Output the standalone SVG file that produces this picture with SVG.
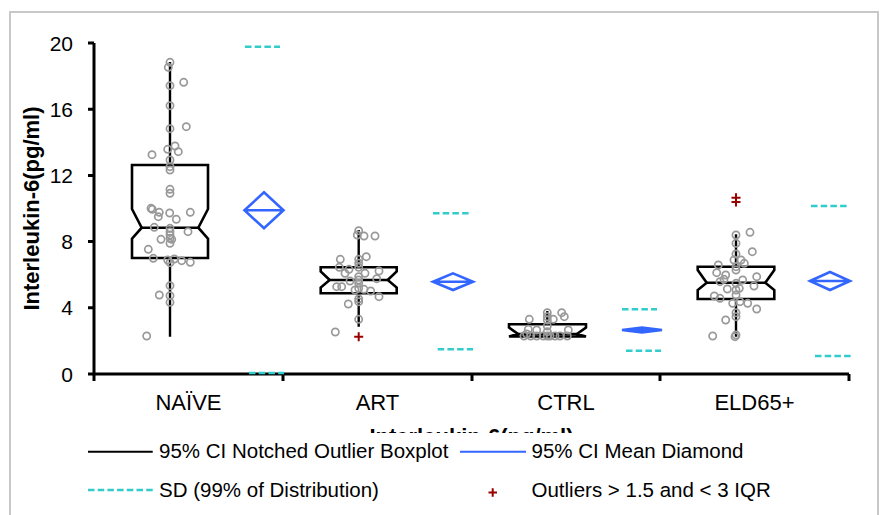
<svg xmlns="http://www.w3.org/2000/svg" width="881" height="515" viewBox="0 0 881 515">
<style>
text{font-family:"Liberation Sans",Arial,sans-serif;fill:#000}
.tk{font-size:21px;text-anchor:end}
.xl{font-size:22px;text-anchor:middle}
.ttl{font-size:22px;font-weight:bold;text-anchor:middle}
.lg{font-size:20.5px}
.ax{stroke:#000;stroke-width:3;fill:none}
.box{stroke:#000;stroke-width:2.6;fill:none;stroke-linejoin:miter}
.wh{stroke:#000;stroke-width:2.4}
.pt{fill:none;stroke:#999;stroke-width:1.7}
.dm{fill:none;stroke:#3366ff;stroke-width:2.6;stroke-linejoin:miter}
.sd{stroke:#33cccc;stroke-width:2.6;stroke-dasharray:6.5 3.2}
.out{stroke:#990000;stroke-width:2}
</style>
<defs>
<circle id="p" r="3.6" class="pt"/>
<path id="o" d="M-4.5,0H4.5M0,-4.5V4.5" class="out"/>
</defs>
<rect x="0" y="0" width="881" height="515" fill="#fff"/>
<rect x="10" y="12" width="868" height="520" fill="#fff" stroke="#c8c8c8" stroke-width="2"/>

<g id="axes">
<path class="ax" d="M94,43V374H849"/>
<path class="ax" d="M88,43H94M88,109.2H94M88,175.4H94M88,241.6H94M88,307.8H94M88,374H94"/>
<path class="ax" d="M94,374V381M283,374V381M472,374V381M660,374V381M849,374V381"/>
<text class="tk" x="73" y="51">20</text>
<text class="tk" x="73" y="117">16</text>
<text class="tk" x="73" y="183">12</text>
<text class="tk" x="73" y="249">8</text>
<text class="tk" x="73" y="315">4</text>
<text class="tk" x="73" y="382">0</text>
<text class="xl" x="188.5" y="410">NAÏVE</text>
<text class="xl" x="377.5" y="410">ART</text>
<text class="xl" x="566" y="410">CTRL</text>
<text class="xl" x="754.5" y="410">ELD65+</text>
<text class="ttl" transform="translate(38.5,208.5) rotate(-90)">Interleukin-6(pg/ml)</text>
<text class="ttl" x="471.5" y="444">Interleukin-6(pg/ml)</text>
</g>

<g id="naive">
<path class="wh" d="M170,62V165M170,258V336.7"/>
<path class="box" d="M132,165H208V209L198.3,227.7L208,238.7V258H132V238.7L141.7,227.7L132,209Z"/>
<path class="box" d="M141.7,227.7H198.3"/>
<g>
<use href="#p" x="170" y="62.3"/><use href="#p" x="168.3" y="67.3"/><use href="#p" x="183.7" y="82.3"/><use href="#p" x="170" y="85.7"/><use href="#p" x="170" y="105.7"/><use href="#p" x="186.3" y="126.7"/><use href="#p" x="170" y="128.7"/><use href="#p" x="152" y="154.7"/><use href="#p" x="167.7" y="149.3"/><use href="#p" x="175" y="146"/><use href="#p" x="178.3" y="151.7"/><use href="#p" x="170" y="160"/><use href="#p" x="170" y="166.7"/><use href="#p" x="170" y="170"/><use href="#p" x="170" y="189.3"/><use href="#p" x="170" y="193.3"/>
<use href="#p" x="151" y="208.3"/><use href="#p" x="152.3" y="209.3"/><use href="#p" x="159.3" y="212.3"/><use href="#p" x="158.3" y="216.7"/><use href="#p" x="169.7" y="213"/><use href="#p" x="176.3" y="219.3"/><use href="#p" x="190.3" y="212.3"/><use href="#p" x="154.3" y="227.3"/><use href="#p" x="170" y="228.3"/><use href="#p" x="170" y="231.7"/><use href="#p" x="188" y="231.7"/><use href="#p" x="170" y="235"/><use href="#p" x="170" y="238.3"/><use href="#p" x="161" y="239.3"/><use href="#p" x="171.7" y="239.3"/><use href="#p" x="170" y="243.3"/><use href="#p" x="148.3" y="249.3"/><use href="#p" x="153.3" y="258.3"/><use href="#p" x="167.7" y="260"/><use href="#p" x="170" y="262.7"/><use href="#p" x="174.3" y="259"/><use href="#p" x="181.7" y="260.7"/><use href="#p" x="190.3" y="262.3"/><use href="#p" x="170" y="285.7"/><use href="#p" x="159.3" y="295"/><use href="#p" x="170" y="295.7"/><use href="#p" x="170" y="302.3"/><use href="#p" x="146.7" y="336"/>
</g>
<path class="dm" d="M244.5,210.3L264,192.3L283.5,210.3L264,228.3ZM244.5,210.3H283.5"/>
</g>

<g id="art">
<path class="wh" d="M358.7,230V267.3M358.7,293.3V326.7"/>
<path class="box" d="M320.7,267.3H396.7V271.5L387.7,280L396.7,287.5V293.3H320.7V287.5L329.7,280L320.7,271.5Z"/>
<path class="box" d="M329.7,280H387.7"/>
<g>
<use href="#p" x="358.7" y="230.7"/><use href="#p" x="357.3" y="235"/><use href="#p" x="364" y="236"/><use href="#p" x="375" y="236"/><use href="#p" x="358.7" y="259.3"/><use href="#p" x="340.3" y="259.3"/><use href="#p" x="366.3" y="256.7"/><use href="#p" x="358.7" y="263.3"/><use href="#p" x="339.3" y="267.3"/><use href="#p" x="349" y="269.3"/><use href="#p" x="345" y="273.3"/><use href="#p" x="358.7" y="267.3"/><use href="#p" x="365" y="273.3"/><use href="#p" x="379" y="271"/><use href="#p" x="358.7" y="276.7"/><use href="#p" x="376.7" y="278.7"/><use href="#p" x="358.7" y="280"/><use href="#p" x="350" y="281"/><use href="#p" x="358.7" y="283.3"/><use href="#p" x="336.7" y="286.7"/><use href="#p" x="341.7" y="286.7"/><use href="#p" x="358.7" y="288.3"/><use href="#p" x="364" y="289.3"/><use href="#p" x="370.7" y="291"/><use href="#p" x="355" y="290"/><use href="#p" x="379" y="296.7"/><use href="#p" x="358.7" y="299"/><use href="#p" x="358.7" y="301.7"/><use href="#p" x="348.3" y="304"/><use href="#p" x="358.7" y="319.3"/><use href="#p" x="335.3" y="332"/>
</g>
<use href="#o" x="358.7" y="336.7"/>
<path class="dm" d="M433,281.7L453,273.4L473,281.7L453,290ZM433,281.7H473"/>
</g>

<g id="ctrl">
<path class="wh" d="M547.3,311V324.3"/>
<path class="box" d="M509,324.3H586V327.5L577,334L586,336.5H509L518,334L509,327.5Z"/>
<path class="box" d="M518,334H577"/>
<g>
<use href="#p" x="547.3" y="312.7"/><use href="#p" x="547.3" y="316.7"/><use href="#p" x="547.3" y="320"/><use href="#p" x="561.7" y="312.7"/><use href="#p" x="564.3" y="316.7"/><use href="#p" x="529.3" y="319.3"/><use href="#p" x="553.3" y="319.3"/><use href="#p" x="547.3" y="326"/><use href="#p" x="528.3" y="329.3"/><use href="#p" x="536.7" y="330"/><use href="#p" x="568.3" y="330"/><use href="#p" x="547.3" y="331.7"/><use href="#p" x="526.7" y="334"/><use href="#p" x="524" y="336"/><use href="#p" x="530.7" y="336"/><use href="#p" x="536.7" y="336"/><use href="#p" x="543.3" y="336"/><use href="#p" x="547.3" y="336"/><use href="#p" x="550" y="336"/><use href="#p" x="555" y="336"/><use href="#p" x="560" y="336"/><use href="#p" x="567.3" y="336"/>
</g>
<path class="dm" d="M622,330L642,327.5L662,330L642,332.5ZM622,330H662"/>
</g>

<g id="eld65">
<path class="wh" d="M736,234.3V266.7M736,299V336.7"/>
<path class="box" d="M697.7,266.7H774.3V270L765.3,282.7L774.3,290V299H697.7V290L706.7,282.7L697.7,270Z"/>
<path class="box" d="M706.7,282.7H765.3"/>
<g>
<use href="#p" x="750" y="232.3"/><use href="#p" x="736" y="235"/><use href="#p" x="736" y="243.3"/><use href="#p" x="752.3" y="251.7"/><use href="#p" x="736" y="254"/><use href="#p" x="734" y="260"/><use href="#p" x="741" y="260"/><use href="#p" x="744.3" y="263.3"/><use href="#p" x="718.3" y="265"/><use href="#p" x="736" y="266.7"/><use href="#p" x="736" y="270"/><use href="#p" x="716.7" y="272.7"/><use href="#p" x="725.7" y="275"/><use href="#p" x="756.7" y="276.7"/><use href="#p" x="724" y="279.3"/><use href="#p" x="720" y="281.7"/><use href="#p" x="742.7" y="280"/><use href="#p" x="736" y="283.3"/><use href="#p" x="754" y="286"/><use href="#p" x="727.3" y="289"/><use href="#p" x="736" y="290"/><use href="#p" x="739.3" y="288.3"/><use href="#p" x="714.3" y="296"/><use href="#p" x="720" y="298.3"/><use href="#p" x="736" y="295"/><use href="#p" x="732.7" y="303.3"/><use href="#p" x="740" y="301.7"/><use href="#p" x="747.7" y="303.3"/><use href="#p" x="756.7" y="309"/><use href="#p" x="736" y="312.7"/><use href="#p" x="736" y="316.7"/><use href="#p" x="725.7" y="320"/><use href="#p" x="712.7" y="336"/><use href="#p" x="736" y="335"/><use href="#p" x="735" y="336.7"/>
</g>
<use href="#o" x="736" y="197.7"/><use href="#o" x="736" y="202"/>
<path class="dm" d="M810,281L830,272L850,281L830,290ZM810,281H850"/>
</g>

<g id="sd">
<path class="sd" d="M245,46.7H280M249,373H284M433,213.3H469M437.7,349.3H473M622,309.3H657M626,350.7H661M811,206H846.7M815,356H851"/>
</g>

<g id="legend">
<rect x="20" y="433" width="850" height="82" fill="#fff"/>
<path d="M88,451.7H152.7" stroke="#000" stroke-width="2"/>
<text class="lg" x="159" y="458">95% CI Notched Outlier Boxplot</text>
<path d="M460,451.7H526" stroke="#3366ff" stroke-width="2"/>
<text class="lg" x="531.5" y="458">95% CI Mean Diamond</text>
<path d="M88,490H152.7" class="sd" stroke-width="2"/>
<text class="lg" x="159" y="497">SD (99% of Distribution)</text>
<path d="M488.5,492.5H497M492.7,488.3V496.7" class="out" stroke-width="1.6"/>
<text class="lg" x="531.5" y="497">Outliers &gt; 1.5 and &lt; 3 IQR</text>
</g>
</svg>
